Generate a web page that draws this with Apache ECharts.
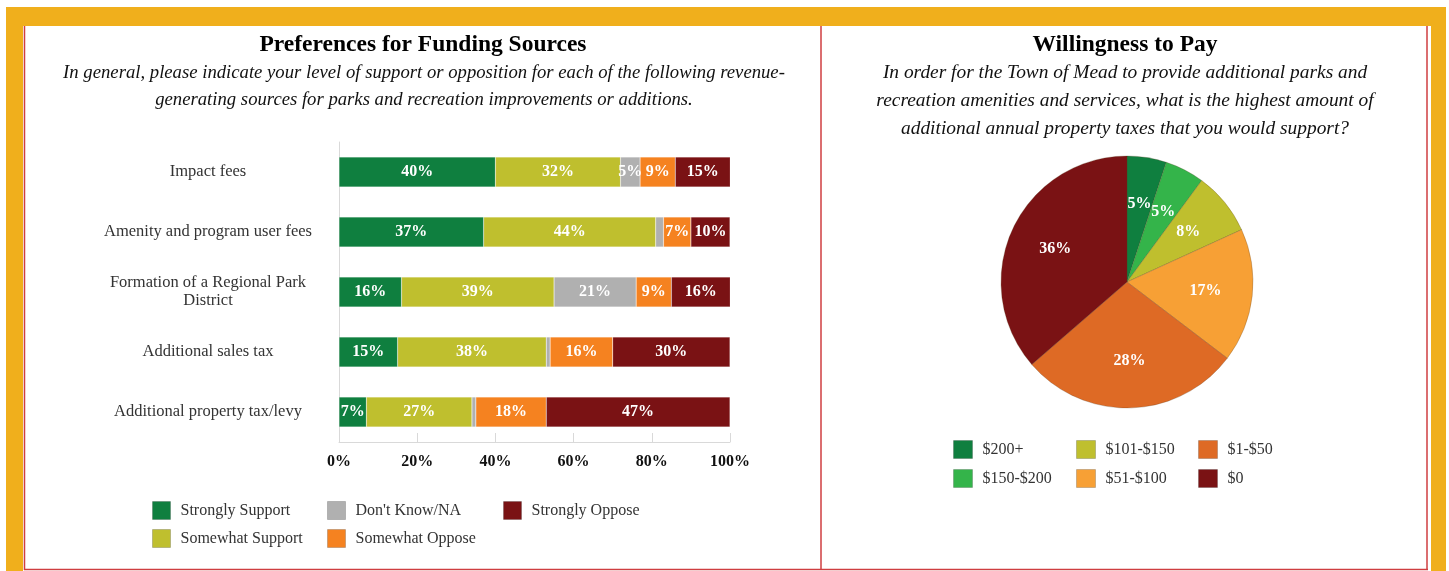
<!DOCTYPE html>
<html>
<head>
<meta charset="utf-8">
<script src="https://cdn.jsdelivr.net/npm/echarts@6/dist/echarts.min.js"></script>
<style>
  html, body { margin: 0; padding: 0; background: #ffffff; }
  #chart { width: 1449px; height: 571px; }
</style>
</head>
<body>
<div id="chart"></div>
<script>
// Funding-source preferences (percent of respondents per source)
const categories = [
  'Impact fees',
  'Amenity and program user fees',
  'Formation of a Regional Park\nDistrict',
  'Additional sales tax',
  'Additional property tax/levy'
];
const strongSupport   = [40, 37, 16, 15, 7];
const somewhatSupport = [32, 44, 39, 38, 27];
const dontKnow        = [5, 2, 21, 1, 1];
const somewhatOppose  = [9, 7, 9, 16, 18];
const stronglyOppose  = [15, 10, 16, 30, 47];

// Willingness to pay (share of respondents)
const payLevels = ['$200+', '$150-$200', '$101-$150', '$51-$100', '$1-$50', '$0'];
const payShares = [5, 5, 8, 17, 28, 36];

const SERIF = '"Liberation Serif", "Times New Roman", serif';
const barColors = ['#0F7F3F', '#BFBF2E', '#B0B0B0', '#F58220', '#7A1214'];
const pieColors = ['#0F7F3F', '#34B44A', '#BFBF2E', '#F7A035', '#DE6A25', '#7A1214'];

const ORANGE = '#F0AF1C';
const RED = '#CF3E40';

const chart = echarts.init(document.getElementById('chart'), null, { renderer: 'canvas' });

function barSeries(name, values, color, minLabel) {
  return {
    name: name,
    type: 'bar',
    stack: 'total',
    barWidth: 30,
    data: values,
    itemStyle: { color: color, borderColor: 'rgba(255,255,255,0.35)', borderWidth: 0.5 },
    label: {
      show: true,
      position: 'inside',
      color: '#ffffff',
      fontFamily: SERIF,
      fontWeight: 'bold',
      fontSize: 16,
      formatter: p => (p.value >= minLabel ? p.value + '%' : '')
    },
    labelLayout: { hideOverlap: false },
    emphasis: { disabled: true }
  };
}

const pieData = payLevels.map((n, i) => ({ name: n, value: payShares[i] }));

function legendCol(names, left, top, gap, size, font) {
  return {
    data: names,
    orient: 'vertical',
    left: left,
    top: top,
    padding: 0,
    itemGap: gap,
    itemWidth: size,
    itemHeight: 18,
    icon: 'rect',
    selectedMode: false,
    itemStyle: { borderColor: 'rgba(0,0,0,0.18)', borderWidth: 1 },
    textStyle: { fontFamily: SERIF, fontSize: font, color: '#333', padding: [0, 0, 0, 5] }
  };
}

const option = {
  backgroundColor: '#ffffff',
  animation: false,
  graphic: [
    // frame
    { type: 'rect', shape: { x: 6, y: 7, width: 1440, height: 19 }, style: { fill: ORANGE }, silent: true },
    { type: 'rect', shape: { x: 6, y: 7, width: 17, height: 564 }, style: { fill: ORANGE }, silent: true },
    { type: 'rect', shape: { x: 1431, y: 7, width: 15, height: 564 }, style: { fill: ORANGE }, silent: true },
    { type: 'line', shape: { x1: 24.5, y1: 26, x2: 24.5, y2: 570 }, style: { stroke: RED, lineWidth: 1.5 }, silent: true },
    { type: 'line', shape: { x1: 821, y1: 26, x2: 821, y2: 570 }, style: { stroke: RED, lineWidth: 1.5 }, silent: true },
    { type: 'line', shape: { x1: 1427, y1: 26, x2: 1427, y2: 570 }, style: { stroke: RED, lineWidth: 1.5 }, silent: true },
    { type: 'line', shape: { x1: 24, y1: 569.5, x2: 1428, y2: 569.5 }, style: { stroke: RED, lineWidth: 1.5 }, silent: true },
    // headings
    { type: 'text', x: 423, y: 45, silent: true,
      style: { text: 'Preferences for Funding Sources', fontFamily: SERIF, fontWeight: 'bold', fontSize: 23.5,
               fill: '#000', align: 'center', verticalAlign: 'middle' } },
    { type: 'text', x: 424, y: 59.5, silent: true,
      style: { text: 'In general, please indicate your level of support or opposition for each of the following revenue-\ngenerating sources for parks and recreation improvements or additions.',
               fontFamily: SERIF, fontStyle: 'italic', fontSize: 18.7, lineHeight: 27,
               fill: '#111', align: 'center', verticalAlign: 'top' } },
    { type: 'text', x: 1125, y: 45, silent: true,
      style: { text: 'Willingness to Pay', fontFamily: SERIF, fontWeight: 'bold', fontSize: 23.5,
               fill: '#000', align: 'center', verticalAlign: 'middle' } },
    { type: 'text', x: 1125, y: 59, silent: true,
      style: { text: 'In order for the Town of Mead to provide additional parks and\nrecreation amenities and services, what is the highest amount of\nadditional annual property taxes that you would support?',
               fontFamily: SERIF, fontStyle: 'italic', fontSize: 19.4, lineHeight: 28,
               fill: '#111', align: 'center', verticalAlign: 'top' } }
  ],
  legend: [
    legendCol(['Strongly Support', 'Somewhat Support'], 152, 501, 9, 18, 16),
    legendCol(["Don't Know/NA", 'Somewhat Oppose'], 327, 501, 9, 18, 16),
    legendCol(['Strongly Oppose'], 503, 501, 9, 18, 16),
    legendCol(['$200+', '$150-$200'], 953, 440, 10, 19, 16),
    legendCol(['$101-$150', '$51-$100'], 1076, 440, 10, 19, 16),
    legendCol(['$1-$50', '$0'], 1198, 440, 10, 19, 16)
  ],
  grid: { left: 339, width: 391, top: 142, height: 300, containLabel: false },
  xAxis: {
    type: 'value',
    min: 0,
    max: 100,
    interval: 20,
    axisLine: { show: true, lineStyle: { color: '#D9D9D9' } },
    axisTick: { show: true, inside: true, length: 9, lineStyle: { color: '#D9D9D9' } },
    splitLine: { show: false },
    axisLabel: { formatter: '{value}%', fontFamily: SERIF, fontWeight: 'bold', fontSize: 16, color: '#111', margin: 12 }
  },
  yAxis: {
    type: 'category',
    inverse: true,
    data: categories,
    axisLine: { show: true, lineStyle: { color: '#D9D9D9' } },
    axisTick: { show: false },
    axisLabel: { fontFamily: SERIF, fontSize: 16.5, color: '#333', align: 'center', margin: 131, lineHeight: 18 }
  },
  series: [
    barSeries('Strongly Support', strongSupport, barColors[0], 3),
    barSeries('Somewhat Support', somewhatSupport, barColors[1], 3),
    barSeries("Don't Know/NA", dontKnow, barColors[2], 5),
    barSeries('Somewhat Oppose', somewhatOppose, barColors[3], 3),
    barSeries('Strongly Oppose', stronglyOppose, barColors[4], 3),
    {
      name: 'Willingness to Pay',
      type: 'pie',
      center: [1127, 282],
      radius: [0, 126],
      startAngle: 90,
      clockwise: true,
      data: pieData,
      color: pieColors,
      itemStyle: { borderColor: 'rgba(90,60,30,0.45)', borderWidth: 0.6 },
      label: { show: false },
      labelLine: { show: false },
      emphasis: { disabled: true }
    },
    {
      // label ring: places the percentages at ~60% of the radius
      name: 'Willingness to Pay labels',
      type: 'pie',
      center: [1127, 282],
      radius: [26, 126],
      startAngle: 90,
      clockwise: true,
      silent: true,
      avoidLabelOverlap: false,
      labelLayout: { hideOverlap: false },
      data: pieData,
      itemStyle: { color: 'rgba(0,0,0,0)', borderWidth: 0 },
      label: {
        show: true,
        position: 'inside',
        color: '#ffffff',
        fontFamily: SERIF,
        fontWeight: 'bold',
        fontSize: 16,
        formatter: p => p.value + '%'
      },
      labelLine: { show: false },
      emphasis: { disabled: true }
    }
  ]
};

chart.setOption(option);
</script>
</body>
</html>
